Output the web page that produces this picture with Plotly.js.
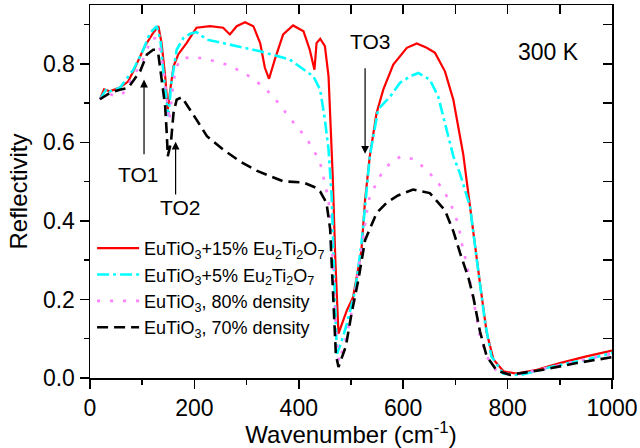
<!DOCTYPE html>
<html>
<head>
<meta charset="utf-8">
<script src="https://cdn.plot.ly/plotly-3.0.1.min.js"></script>
<style>html,body{margin:0;padding:0;background:#fff;}#chart{width:640px;height:448px;}</style>
</head>
<body>
<div id="chart"></div>
<script>
// ---- data ----
const names = [
  'EuTiO<sub>3</sub>+15% Eu<sub>2</sub>Ti<sub>2</sub>O<sub>7</sub>',
  'EuTiO<sub>3</sub>+5% Eu<sub>2</sub>Ti<sub>2</sub>O<sub>7</sub>',
  'EuTiO<sub>3</sub>, 80% density',
  'EuTiO<sub>3</sub>, 70% density'
];

const x15 = [19, 27, 38, 57, 73, 83, 105, 121, 131, 137, 144, 149, 153, 160, 169, 185, 204, 230, 255, 268, 281, 297, 313, 326, 335, 343, 354, 370, 389, 409, 421, 430, 434, 441, 450, 457, 461, 465, 470, 476, 492, 504, 520, 527, 536, 549, 562, 581, 607, 626, 645, 661, 680, 696, 715, 734, 747, 760, 773, 792, 817, 856, 900, 951, 1000];
const y15 = [0.71, 0.735, 0.73, 0.74, 0.755, 0.781, 0.845, 0.879, 0.896, 0.854, 0.768, 0.684, 0.727, 0.794, 0.824, 0.853, 0.892, 0.896, 0.892, 0.875, 0.896, 0.906, 0.896, 0.853, 0.79, 0.762, 0.811, 0.875, 0.898, 0.883, 0.836, 0.785, 0.853, 0.864, 0.845, 0.768, 0.641, 0.514, 0.3, 0.113, 0.172, 0.206, 0.325, 0.454, 0.565, 0.675, 0.735, 0.798, 0.841, 0.852, 0.841, 0.828, 0.781, 0.709, 0.57, 0.369, 0.242, 0.115, 0.047, 0.017, 0.011, 0.021, 0.038, 0.055, 0.07];

const x5 = [19, 32, 38, 57, 83, 102, 115, 128, 135, 142, 150, 156, 166, 179, 192, 204, 224, 268, 307, 326, 383, 409, 428, 441, 450, 457, 463, 468, 473, 480, 492, 508, 520, 527, 536, 552, 575, 594, 613, 629, 651, 667, 680, 696, 709, 728, 741, 757, 769, 792, 824, 888, 951, 1000];
const y5 = [0.71, 0.737, 0.73, 0.739, 0.785, 0.836, 0.879, 0.896, 0.86, 0.76, 0.667, 0.752, 0.836, 0.866, 0.877, 0.881, 0.862, 0.849, 0.836, 0.832, 0.811, 0.785, 0.768, 0.734, 0.658, 0.582, 0.463, 0.25, 0.062, 0.085, 0.138, 0.223, 0.342, 0.437, 0.565, 0.684, 0.717, 0.752, 0.768, 0.777, 0.76, 0.717, 0.65, 0.565, 0.52, 0.437, 0.301, 0.14, 0.055, 0.011, 0.007, 0.03, 0.047, 0.064];

const x80 = [19, 32, 51, 64, 73, 89, 99, 109, 118, 125, 131, 140, 146, 152, 157, 163, 172, 196, 239, 268, 303, 329, 351, 370, 393, 412, 428, 441, 447, 457, 465, 471, 477, 490, 505, 520, 530, 536, 559, 578, 597, 623, 645, 664, 680, 699, 708, 712, 722, 731, 739, 747, 760, 779, 811, 870, 930, 1000];
const y80 = [0.71, 0.726, 0.717, 0.726, 0.747, 0.781, 0.802, 0.836, 0.866, 0.865, 0.858, 0.794, 0.72, 0.654, 0.72, 0.781, 0.811, 0.819, 0.807, 0.796, 0.77, 0.745, 0.717, 0.684, 0.645, 0.616, 0.582, 0.548, 0.514, 0.454, 0.3, 0.12, 0.041, 0.1, 0.19, 0.33, 0.42, 0.463, 0.522, 0.552, 0.565, 0.556, 0.529, 0.503, 0.472, 0.42, 0.374, 0.344, 0.289, 0.225, 0.161, 0.106, 0.055, 0.017, 0.007, 0.025, 0.042, 0.062];

const x70 = [19, 38, 57, 73, 96, 109, 121, 125, 131, 137, 144, 147, 149, 155, 160, 166, 176, 204, 224, 255, 287, 319, 351, 370, 409, 434, 441, 453, 460, 466, 471, 476, 490, 501, 514, 527, 549, 568, 590, 619, 651, 680, 696, 709, 725, 734, 747, 760, 779, 805, 868, 932, 990, 1000];
const y70 = [0.71, 0.726, 0.734, 0.739, 0.781, 0.824, 0.836, 0.836, 0.824, 0.768, 0.692, 0.624, 0.565, 0.599, 0.675, 0.709, 0.715, 0.658, 0.616, 0.582, 0.552, 0.528, 0.51, 0.501, 0.498, 0.484, 0.475, 0.446, 0.38, 0.2, 0.06, 0.028, 0.08, 0.164, 0.249, 0.351, 0.42, 0.446, 0.465, 0.48, 0.471, 0.427, 0.374, 0.318, 0.255, 0.208, 0.119, 0.055, 0.019, 0.008, 0.021, 0.038, 0.051, 0.053];

// annotation labels: [text, x, y]
const labels = [['TO1', 92, 0.518], ['TO2', 172, 0.434], ['TO3', 536, 0.856]];
// arrows: [headX, headY, tailX, tailY]
const arrows = [[103.5, 0.76, 103.5, 0.565], [164, 0.602, 164, 0.462], [527, 0.571, 527, 0.794]];
const tempLabel = ['300 K', 879, 0.83];

// ---- styles ----
const FONT = 'Liberation Sans, Arial, Helvetica, sans-serif';
const traces = [
  {x: x15, y: y15, name: names[0], mode: 'lines', line: {color: '#ff0000', width: 2.2}},
  {x: x5, y: y5, name: names[1], mode: 'lines', line: {color: '#00ffff', width: 2.6, dash: '12px,4px,3px,4px'}},
  {x: x80, y: y80, name: names[2], mode: 'lines', line: {color: '#ff80ff', width: 2.6, dash: '3px,10px'}},
  {x: x70, y: y70, name: names[3], mode: 'lines', line: {color: '#000000', width: 2.6, dash: '11px,6px'}}
];

const annotations = [];
arrows.forEach(a => annotations.push({
  x: a[0], y: a[1], ax: a[2], ay: a[3], xref: 'x', yref: 'y', axref: 'x', ayref: 'y',
  text: ' ', font: {size: 1}, showarrow: true, arrowhead: 2, arrowsize: 1.3, arrowwidth: 1.2, arrowcolor: '#000'
}));
labels.forEach(l => annotations.push({
  x: l[1], y: l[2], xref: 'x', yref: 'y', text: l[0], showarrow: false,
  font: {family: FONT, size: 21, color: '#000'}
}));
annotations.push({x: tempLabel[1], y: tempLabel[2], xref: 'x', yref: 'y', text: tempLabel[0], showarrow: false,
  font: {family: FONT, size: 23, color: '#000'}});

const axBase = {showgrid: false, zeroline: false, color: '#000', linecolor: '#000', tickcolor: '#000'};
const layout = {
  width: 640, height: 448,
  margin: {l: 90, r: 28, t: 5, b: 70},
  paper_bgcolor: '#fff', plot_bgcolor: '#fff',
  font: {family: FONT, color: '#000'},
  showlegend: true,
  legend: {x: 0.004, y: 0.397, xanchor: 'left', yanchor: 'top', bgcolor: 'rgba(0,0,0,0)',
    font: {family: FONT, size: 18, color: '#000'}, itemwidth: 42, tracegroupgap: 0},
  xaxis: Object.assign({}, axBase, {
    range: [0, 1000], tick0: 0, dtick: 200, ticks: 'outside', ticklen: 9, tickwidth: 1.5,
    showline: true, linewidth: 1.5, mirror: true,
    tickfont: {family: FONT, size: 23, color: '#000'},
    minor: {dtick: 100, ticks: 'outside', ticklen: 5, tickwidth: 1.5, tickcolor: '#000', showgrid: false},
    title: {text: 'Wavenumber (cm<sup>-1</sup>)', font: {family: FONT, size: 24, color: '#000'}, standoff: 0}
  }),
  yaxis: Object.assign({}, axBase, {
    range: [0, 0.95], tick0: 0, dtick: 0.2, tickformat: '.1f', ticks: 'outside', ticklen: 9, tickwidth: 1.5,
    showline: true, linewidth: 1.5, mirror: true,
    tickfont: {family: FONT, size: 23, color: '#000'},
    minor: {dtick: 0.1, ticks: 'outside', ticklen: 5, tickwidth: 1.5, tickcolor: '#000', showgrid: false},
    title: {text: 'Reflectivity', font: {family: FONT, size: 24, color: '#000'}, standoff: 8}
  }),
  xaxis2: Object.assign({}, axBase, {
    overlaying: 'x', side: 'top', range: [0, 1000], tick0: 0, dtick: 100, ticks: 'inside', ticklen: 9,
    tickwidth: 1.5, showticklabels: false, showline: false
  }),
  yaxis2: Object.assign({}, axBase, {
    overlaying: 'y', side: 'right', range: [0, 0.95], tick0: 0, dtick: 0.1, ticks: 'inside', ticklen: 9,
    tickwidth: 1.5, showticklabels: false, showline: false
  }),
  annotations: annotations
};

traces.push({x: [], y: [], xaxis: 'x2', yaxis: 'y2', showlegend: false, hoverinfo: 'skip', mode: 'lines'});

Plotly.newPlot('chart', traces, layout, {staticPlot: true, displayModeBar: false});
</script>
</body>
</html>
